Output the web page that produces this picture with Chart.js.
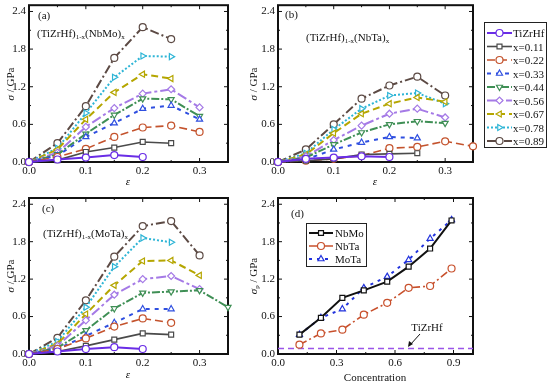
<!DOCTYPE html>
<html>
<head>
<meta charset="utf-8">
<script src="https://cdn.jsdelivr.net/npm/chart.js@4.4.0/dist/chart.umd.min.js"></script>
<style>
  body { margin: 0; background: #fff; width: 550px; height: 386px; position: relative; overflow: hidden;
         font-family: "Liberation Serif", "Times New Roman", serif; color: #111; }
  canvas { position: absolute; }
  .t { position: absolute; font-size: 11px; line-height: 12px; white-space: nowrap; }
  .c { transform: translate(-50%, -50%); }
  .rot { transform: translate(-50%, -50%) rotate(-90deg); }
  sub { font-size: 7px; vertical-align: -2px; line-height: 0; }
  .legend { position: absolute; border: 1px solid #222; background: #fff; }
</style>
</head>
<body>
<canvas id="chartA" width="240" height="180" style="left:0;top:0"></canvas>
<canvas id="chartB" width="232" height="180" style="left:250px;top:0"></canvas>
<canvas id="chartC" width="240" height="180" style="left:0;top:190px"></canvas>
<canvas id="chartD" width="232" height="180" style="left:250px;top:190px"></canvas>

<div class="t" style="left:38px;top:9px">(a)</div>
<div class="t" style="left:37px;top:27px">(TiZrHf)<sub>1-x</sub>(NbMo)<sub>x</sub></div>
<div class="t" style="left:285px;top:8px">(b)</div>
<div class="t" style="left:306px;top:31px">(TiZrHf)<sub>1-x</sub>(NbTa)<sub>x</sub></div>
<div class="t" style="left:42px;top:202px">(c)</div>
<div class="t" style="left:43px;top:227px">(TiZrHf)<sub>1-x</sub>(MoTa)<sub>x</sub></div>
<div class="t" style="left:291px;top:207px">(d)</div>

<div class="t rot" style="left:10px;top:84px"><i>σ</i> / GPa</div>
<div class="t rot" style="left:253px;top:84px"><i>σ</i> / GPa</div>
<div class="t rot" style="left:10px;top:276px"><i>σ</i> / GPa</div>
<div class="t rot" style="left:253px;top:276px"><i>σ</i><sub>p</sub> / GPa</div>
<div class="t c" style="left:128px;top:181px"><i>ε</i></div>
<div class="t c" style="left:375px;top:181px"><i>ε</i></div>
<div class="t c" style="left:128px;top:374px"><i>ε</i></div>
<div class="t c" style="left:375px;top:377px">Concentration</div>
<div class="t c" style="left:427px;top:327px">TiZrHf</div>

<div id="legendMain" class="legend" style="left:484px;top:22px;width:61px;height:124px"></div>
<div id="legendPeak" class="legend" style="left:306px;top:223px;width:59px;height:42px"></div>

<svg style="position:absolute;left:0;top:0" width="550" height="386">
  <line x1="420" y1="334" x2="410" y2="345" stroke="#111" stroke-width="1"/>
  <polygon points="408,347 409,341 413,344" fill="#111"/>
</svg>

<script>
// strain steps shared by panels (a)-(c)
const strain = [0, 0.05, 0.10, 0.15, 0.20, 0.25, 0.30, 0.35];
const seriesLabels = ['TiZrHf', 'x=0.11', 'x=0.22', 'x=0.33', 'x=0.44', 'x=0.56', 'x=0.67', 'x=0.78', 'x=0.89'];

// stress (GPa) per series, one row per label above
const nbmoStress = [
  [0, 0.04, 0.07, 0.11, 0.08],
  [0, 0.03, 0.16, 0.23, 0.32, 0.30],
  [0, 0.08, 0.21, 0.40, 0.55, 0.58, 0.48],
  [0, 0.10, 0.40, 0.62, 0.85, 0.90, 0.68],
  [0, 0.12, 0.45, 0.75, 1.01, 1.00, 0.73],
  [0, 0.15, 0.56, 0.86, 1.09, 1.16, 0.87],
  [0, 0.20, 0.68, 1.11, 1.40, 1.33],
  [0, 0.22, 0.78, 1.35, 1.69, 1.68],
  [0, 0.30, 0.89, 1.66, 2.15, 1.96]
];
const nbtaStress = [
  [0, 0.05, 0.07, 0.09, 0.08],
  [0, 0.02, 0.05, 0.12, 0.13, 0.14],
  [0, 0.02, 0.05, 0.10, 0.22, 0.24, 0.33, 0.25],
  [0, 0.04, 0.20, 0.31, 0.40, 0.38],
  [0, 0.07, 0.28, 0.47, 0.60, 0.65, 0.62],
  [0, 0.09, 0.35, 0.58, 0.77, 0.85, 0.71],
  [0, 0.12, 0.46, 0.77, 0.93, 1.03, 0.96],
  [0, 0.14, 0.52, 0.85, 1.06, 1.10, 0.93],
  [0, 0.20, 0.60, 1.01, 1.22, 1.36, 1.06]
];
const motaStress = [
  [0, 0.04, 0.08, 0.11, 0.08],
  [0, 0.04, 0.13, 0.23, 0.33, 0.31],
  [0, 0.08, 0.25, 0.44, 0.57, 0.50],
  [0, 0.08, 0.29, 0.50, 0.72, 0.72],
  [0, 0.10, 0.38, 0.73, 0.98, 1.00, 1.02, 0.75],
  [0, 0.13, 0.54, 0.95, 1.20, 1.25, 1.04],
  [0, 0.16, 0.64, 1.10, 1.49, 1.50, 1.26],
  [0, 0.20, 0.75, 1.40, 1.86, 1.79],
  [0, 0.26, 0.86, 1.56, 2.05, 2.13, 1.58]
];

// panel (d): peak stress vs concentration
const concentration = [0.11, 0.22, 0.33, 0.44, 0.56, 0.67, 0.78, 0.89];
const peakNbMo = [0.31, 0.58, 0.90, 1.02, 1.16, 1.40, 1.69, 2.14];
const peakNbTa = [0.15, 0.33, 0.39, 0.63, 0.82, 1.06, 1.09, 1.37];
const peakMoTa = [0.31, 0.58, 0.72, 1.06, 1.24, 1.51, 1.85, 2.15];
const peakLabels = ['NbMo', 'NbTa', 'MoTa'];
const peakTiZrHf = 0.09;

const strainTicks = [0, 0.1, 0.2, 0.3];
const stressTicks = [0, 0.6, 1.2, 1.8, 2.4];
const concTicks = [0, 0.3, 0.6, 0.9];

const styles = [
  { color: '#6a2de6', dash: [], shape: 'circle', rot: 0, width: 2 },
  { color: '#4a4a4a', dash: [], shape: 'rect', rot: 0, width: 1.6 },
  { color: '#c4532d', dash: [8, 4], shape: 'circle', rot: 0, width: 1.6 },
  { color: '#2f4fe0', dash: [4, 5], shape: 'triangle', rot: 0, width: 2 },
  { color: '#3f8f55', dash: [8, 2, 2, 2], shape: 'triangle', rot: 180, width: 2 },
  { color: '#a57ae6', dash: [10, 3, 3, 3], shape: 'rectRot', rot: 0, width: 2 },
  { color: '#b5a600', dash: [7, 4], shape: 'triangle', rot: 270, width: 2 },
  { color: '#2eb5d6', dash: [2, 2], shape: 'triangle', rot: 90, width: 2 },
  { color: '#5c4a44', dash: [9, 3, 2, 3], shape: 'circle', rot: 0, width: 2 }
];
const peakStyles = [
  { color: '#111111', dash: [], shape: 'rect', rot: 0, width: 2 },
  { color: '#c8502c', dash: [8, 3, 2, 3], shape: 'circle', rot: 0, width: 1.6 },
  { color: '#2233dd', dash: [3, 5], shape: 'triangle', rot: 0, width: 2 }
];

Chart.defaults.font.family = '"Liberation Serif", "Times New Roman", serif';
Chart.defaults.font.size = 11;
Chart.defaults.color = '#111';

function minorOf(major, max) {
  const step = major[1] - major[0];
  const out = [];
  for (const v of major) if (v + step / 2 < max - 1e-9) out.push(v + step / 2);
  return out;
}

// frame and inward ticks on all four sides
const framePlugin = {
  id: 'frame',
  beforeDatasetsDraw(chart) {
    const { ctx, chartArea: a, scales } = chart;
    const o = chart.options.plugins.frame;
    ctx.save();
    ctx.strokeStyle = '#111';
    ctx.lineWidth = 1;
    const tick = (vals, len) => {
      ctx.beginPath();
      for (const v of vals) {
        const px = scales.x.getPixelForValue(v);
        ctx.moveTo(px, a.bottom); ctx.lineTo(px, a.bottom - len);
        ctx.moveTo(px, a.top); ctx.lineTo(px, a.top + len);
      }
      ctx.stroke();
    };
    const tickY = (vals, len) => {
      ctx.beginPath();
      for (const v of vals) {
        const py = scales.y.getPixelForValue(v);
        ctx.moveTo(a.left, py); ctx.lineTo(a.left + len, py);
        ctx.moveTo(a.right, py); ctx.lineTo(a.right - len, py);
      }
      ctx.stroke();
    };
    tick(o.xMajor, 4); tick(minorOf(o.xMajor, scales.x.max), 2);
    tickY(stressTicks, 4); tickY(minorOf(stressTicks, scales.y.max), 2);
    ctx.lineWidth = 2;
    ctx.strokeRect(a.left, a.top, a.right - a.left, a.bottom - a.top);
    ctx.restore();
  }
};

function lineSet(xs, ys, st, label) {
  return {
    label,
    data: ys.map((v, i) => ({ x: xs[i], y: v })),
    borderColor: st.color, borderWidth: st.width, borderDash: st.dash,
    pointStyle: st.shape, pointRotation: st.rot, pointRadius: 3.5,
    pointBorderWidth: 1.2, pointBackgroundColor: '#fff', pointBorderColor: st.color,
    tension: 0, fill: false, clip: false
  };
}

function panel(id, datasets, xMax, xTicks, yAxisW, padTop, padRight, xAxisH) {
  return new Chart(document.getElementById(id), {
    type: 'line',
    data: { datasets },
    options: {
      responsive: false, animation: false, devicePixelRatio: 1,
      layout: { padding: { top: padTop, right: padRight, left: 0, bottom: 0 } },
      plugins: { legend: { display: false }, tooltip: { enabled: false }, frame: { xMajor: xTicks } },
      scales: {
        x: {
          type: 'linear', min: 0, max: xMax,
          grid: { display: false, drawTicks: false, tickLength: 0 }, border: { display: false },
          ticks: { padding: 3, maxRotation: 0, autoSkip: false, callback: v => v.toFixed(1) },
          afterBuildTicks: s => { s.ticks = xTicks.map(v => ({ value: v })); },
          afterFit: s => { s.height = xAxisH; s.paddingLeft = 0; s.paddingRight = 0; }
        },
        y: {
          min: 0, max: 2.5,
          grid: { display: false, drawTicks: false, tickLength: 0 }, border: { display: false },
          ticks: { padding: 3, autoSkip: false, callback: v => v.toFixed(1) },
          afterBuildTicks: s => { s.ticks = stressTicks.map(v => ({ value: v })); },
          afterFit: s => { s.width = yAxisW; s.paddingTop = 0; s.paddingBottom = 0; }
        }
      }
    },
    plugins: [framePlugin]
  });
}

const strainSets = rows => rows.map((r, i) => lineSet(strain, r, styles[i], seriesLabels[i]));

panel('chartA', strainSets(nbmoStress), 0.35, strainTicks, 29, 5, 12, 18);
panel('chartB', strainSets(nbtaStress), 0.35, strainTicks, 28, 5, 9, 18);
panel('chartC', strainSets(motaStress), 0.35, strainTicks, 29, 8, 12, 16);

const peakSets = [peakNbMo, peakNbTa, peakMoTa].map((r, i) => lineSet(concentration, r, peakStyles[i], peakLabels[i]));
peakSets.push({
  label: 'TiZrHf',
  data: [{ x: 0, y: peakTiZrHf }, { x: 1, y: peakTiZrHf }],
  borderColor: '#9a55e8', borderWidth: 1.5, borderDash: [6, 4], pointRadius: 0, fill: false
});
panel('chartD', peakSets, 1.0, concTicks, 28, 8, 9, 16);

// legends: sample line + marker drawn with Chart.js point helper, text as HTML
function buildLegend(id, labels, stylesList, rowTop, rowStep, lineW, textLeft) {
  const box = document.getElementById(id);
  const w = box.clientWidth, h = box.clientHeight;
  const cv = document.createElement('canvas');
  cv.width = w; cv.height = h; cv.style.left = '0'; cv.style.top = '0';
  box.appendChild(cv);
  const ctx = cv.getContext('2d');
  labels.forEach((lab, i) => {
    const st = stylesList[i];
    const y = rowTop + i * rowStep;
    ctx.save();
    ctx.strokeStyle = st.color; ctx.lineWidth = st.width; ctx.setLineDash(st.dash);
    ctx.beginPath(); ctx.moveTo(2, y); ctx.lineTo(2 + lineW, y); ctx.stroke();
    ctx.setLineDash([]);
    ctx.fillStyle = '#fff'; ctx.strokeStyle = st.color; ctx.lineWidth = 1.2;
    Chart.helpers.drawPoint(ctx, { pointStyle: st.shape, rotation: st.rot, radius: 3.5, borderWidth: 1.2 }, 2 + lineW / 2, y);
    ctx.restore();
    const d = document.createElement('div');
    d.className = 't';
    d.style.left = textLeft + 'px';
    d.style.top = (y - 6) + 'px';
    d.textContent = lab;
    box.appendChild(d);
  });
}
buildLegend('legendMain', seriesLabels, styles, 10, 13.5, 25, 28);
buildLegend('legendPeak', peakLabels, peakStyles, 9, 13, 24, 28);
</script>
</body>
</html>
